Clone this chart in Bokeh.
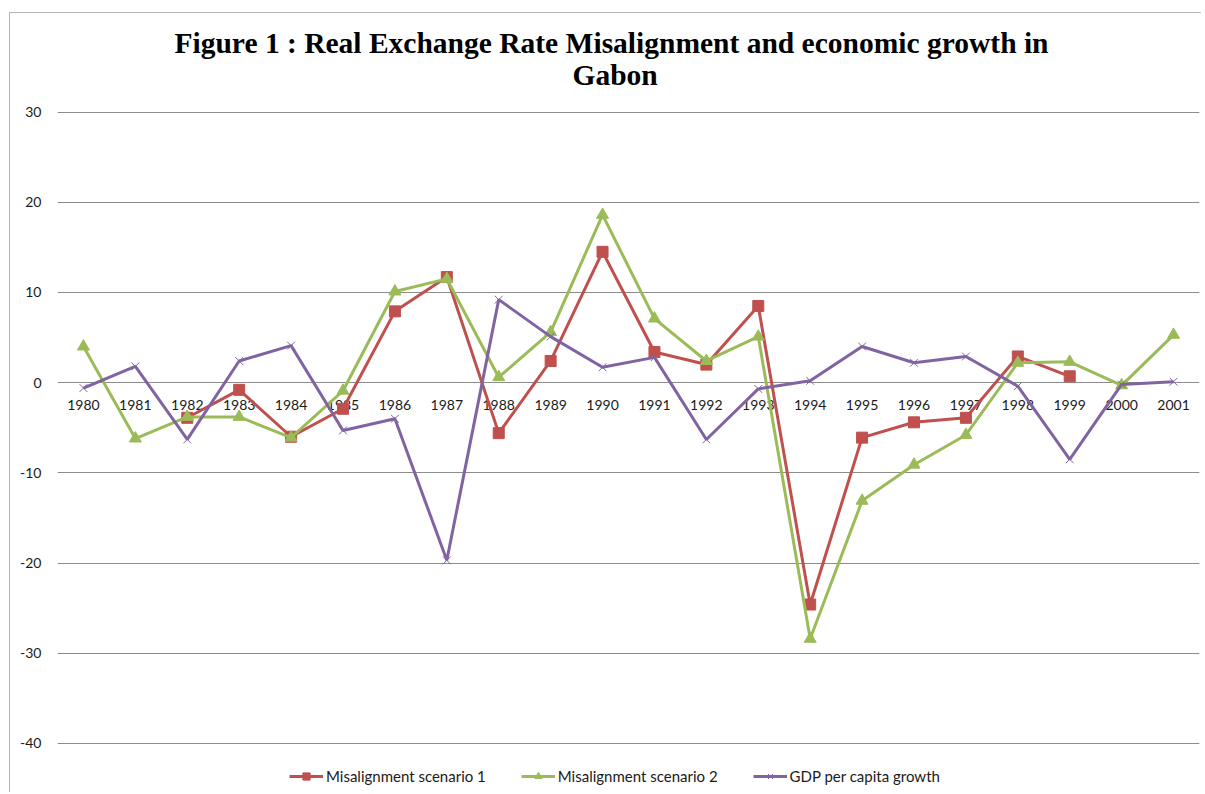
from bokeh.plotting import figure
from bokeh.models import FactorRange, Range1d, Legend, LegendItem, FixedTicker, ColumnDataSource, Title
from bokeh.embed import file_html
from bokeh.resources import INLINE

years = [str(y) for y in range(1980, 2002)]

# Misalignment scenario 1 (available 1982-1999)
years_s1 = [str(y) for y in range(1982, 2000)]
scenario1 = [-3.9, -0.8, -6.0, -2.9, 7.9, 11.7, -5.6, 2.4, 14.5, 3.4, 2.0, 8.5,
             -24.6, -6.1, -4.4, -3.9, 2.9, 0.7]

# Misalignment scenario 2 (1980-2001)
scenario2 = [4.0, -6.2, -3.8, -3.8, -6.1, -0.9, 10.1, 11.5, 0.6, 5.6, 18.6, 7.1,
             2.4, 5.1, -28.4, -13.1, -9.1, -5.8, 2.2, 2.3, -0.3, 5.3]

# GDP per capita growth (1980-2001)
gdp_growth = [-0.6, 1.8, -6.3, 2.4, 4.1, -5.3, -4.0, -19.7, 9.2, 5.1, 1.7, 2.8,
              -6.3, -0.7, 0.2, 4.0, 2.2, 2.9, -0.4, -8.5, -0.2, 0.1]

y_ticks = [-40, -30, -20, -10, 0, 10, 20, 30]
x_axis_at = 0  # category axis crosses the value axis at 0

RED = "#C0504D"
GREEN = "#9BBB59"
PURPLE = "#8064A2"

p = figure(width=1192, height=780, x_range=FactorRange(*years, range_padding=0),
           y_range=Range1d(-45.55, 30.5), output_backend="svg", toolbar_location=None,
           min_border_left=47, min_border_right=3, min_border_top=94, min_border_bottom=0)

p.outline_line_color = None
p.background_fill_color = "white"
p.border_fill_color = "white"
p.styles = {"border-left": "1px solid #b4b4b4", "border-top": "1px solid #b4b4b4",
            "margin-left": "9px", "margin-top": "12px"}

# title, first line (outer)
p.title.text = "Figure 1 : Real Exchange Rate Misalignment and economic growth in"
p.title.align = "left"
p.title.offset = 117
p.title.text_font = "Liberation Serif"
p.title.text_font_size = "29.5px"
p.title.text_font_style = "bold"
p.title.text_color = "#000000"
p.title.standoff = -38
# title, second line (next to the plot)
p.add_layout(Title(text="Gabon", align="left", offset=515, text_font="Liberation Serif",
                   text_font_size="29.5px", text_font_style="bold", text_color="#000000",
                   standoff=34), "above")

# grid
p.xgrid.grid_line_color = None
p.ygrid.grid_line_color = "#8c8c8c"
p.ygrid.grid_line_width = 1
p.yaxis.ticker = FixedTicker(ticks=y_ticks)
p.yaxis.major_label_overrides = {t: str(t) for t in y_ticks}

# y axis
p.yaxis.axis_line_color = None
p.yaxis.major_tick_line_color = None
p.yaxis.minor_tick_line_color = None
p.yaxis.major_tick_out = 0
p.yaxis.major_tick_in = 0
p.yaxis.major_label_text_font = "Lato"
p.yaxis.major_label_text_font_size = "14px"
p.yaxis.major_label_text_color = "#1a1a1a"
p.yaxis.major_label_standoff = 16

# x axis: labels sit just under the zero line
p.xaxis.visible = False
lab_src = ColumnDataSource(dict(x=years, y=[x_axis_at] * len(years), t=years))
p.text(x="x", y="y", text="t", source=lab_src, text_align="center", text_baseline="top",
       y_offset=17, text_font={"value": "Lato"}, text_font_size="14px", text_color="#1a1a1a")

# series
l1 = p.line(years_s1, scenario1, line_color=RED, line_width=3)
m1 = p.scatter(years_s1, scenario1, marker="square", size=11, fill_color=RED, line_color=RED)

l2 = p.line(years, scenario2, line_color=GREEN, line_width=3)
m2 = p.scatter(years, scenario2, marker="triangle", size=12, fill_color=GREEN, line_color=GREEN)

l3 = p.line(years, gdp_growth, line_color=PURPLE, line_width=3)
m3 = p.scatter(years, gdp_growth, marker="x", size=11, line_color=PURPLE, line_width=1)

legend = Legend(items=[
    LegendItem(label="Misalignment scenario 1", renderers=[l1, m1]),
    LegendItem(label="Misalignment scenario 2", renderers=[l2, m2]),
    LegendItem(label="GDP per capita growth", renderers=[l3, m3]),
], orientation="horizontal", location=(232, 8), border_line_color=None,
   label_text_font="Lato", label_text_font_size="15px", label_text_color="#1a1a1a",
   glyph_width=34, glyph_height=18, label_standoff=3, spacing=35, margin=0, padding=0,
   background_fill_alpha=0)
p.add_layout(legend)

open("out.html", "w").write(file_html(p, INLINE))
